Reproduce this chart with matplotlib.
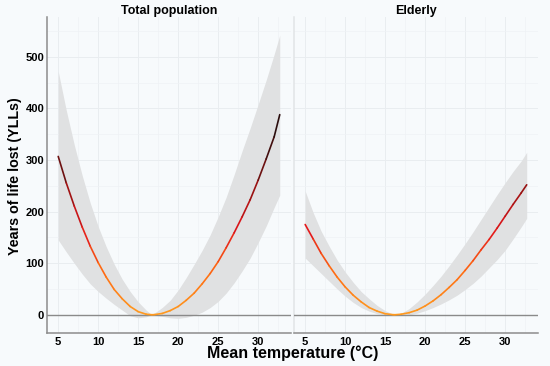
import numpy as np
import matplotlib
matplotlib.use("Agg")
import matplotlib.pyplot as plt
from matplotlib.collections import LineCollection
from matplotlib.colors import LinearSegmentedColormap, Normalize

plt.rcParams['font.family'] = ['Liberation Sans', 'DejaVu Sans']

# Total population: temperature, YLL estimate and CI bounds
temp_tot = [5, 6, 7, 8, 9, 10, 11, 12, 13, 14, 15, 16, 16.7,
            17, 18, 19, 20, 21, 22, 23, 24, 25, 26, 27, 28, 29, 30, 31, 32, 32.7]
yll_tot = [307, 256, 211, 170, 133, 101, 73, 49, 31, 16, 6, 1, 0,
           0.2, 2.5, 8, 16, 28, 42, 60, 80, 103, 130, 159, 190, 223, 261, 302, 345, 388]
lo_tot = [145, 122, 100, 79, 60, 45, 32, 20, 9, -2, -6, -4, 0,
          -1, -3, -6, -7, -5, -1, 5, 14, 26, 42, 62, 85, 110, 140, 172, 208, 232]
hi_tot = [472, 397, 330, 270, 217, 171, 132, 98, 69, 45, 25, 9, 0,
          3, 14, 28, 48, 72, 98, 125, 155, 190, 228, 272, 318, 362, 408, 455, 505, 542]

# Elderly
temp_eld = [5, 6, 7, 8, 9, 10, 11, 12, 13, 14, 15, 16, 16.2,
            17, 18, 19, 20, 21, 22, 23, 24, 25, 26, 27, 28, 29, 30, 31, 32, 32.7]
yll_eld = [175, 147, 119, 95, 73, 54, 38, 25, 14, 7, 2, 0.1, 0,
           1, 4, 9, 17, 27, 39, 53, 68, 86, 105, 126, 146, 168, 191, 214, 236, 252]
lo_eld = [110, 95, 80, 65, 50, 36, 24, 14, 7, 2, 0, -1, 0,
          -1, 0, 3, 8, 14, 21, 29, 38, 49, 61, 75, 91, 107, 125, 147, 170, 187]
hi_eld = [240, 198, 162, 133, 106, 83, 63, 45, 31, 18, 8, 1, 0,
          3, 12, 25, 40, 57, 75, 95, 116, 138, 161, 185, 209, 233, 256, 278, 298, 315]

panels = ["Total population", "Elderly"]
xticks = [5, 10, 15, 20, 25, 30]
yticks = [0, 100, 200, 300, 400, 500]

bg = '#f7fafc'
cmap = LinearSegmentedColormap.from_list(
    'yll', [(0, '#ff9a1f'), (0.22, '#ff6a12'), (0.42, '#e3161b'),
            (0.62, '#9a1212'), (0.8, '#4a1010'), (1, '#1c0c0c')])
norm = Normalize(0, 390)

fig = plt.figure(figsize=(5.5, 3.66), dpi=100, facecolor=bg)
positions = [[0.0855, 0.0893, 0.4435, 0.8651], [0.5345, 0.0893, 0.4435, 0.8651]]
data = [(temp_tot, yll_tot, lo_tot, hi_tot), (temp_eld, yll_eld, lo_eld, hi_eld)]

for i, (title, pos, (t, y, lo, hi)) in enumerate(zip(panels, positions, data)):
    ax = fig.add_axes(pos, facecolor=bg)
    ax.set_xlim(3.6, 34.1)
    ax.set_ylim(-36, 578)
    ax.set_xticks(xticks)
    ax.set_yticks(yticks)
    ax.set_xticks(np.arange(7.5, 34, 5), minor=True)
    ax.set_yticks(np.arange(50, 578, 100), minor=True)
    ax.grid(True, which='major', color='#e9edf0', lw=0.7)
    ax.grid(True, which='minor', color='#eff2f5', lw=0.5)
    ax.set_axisbelow(True)
    ax.tick_params(which='both', length=0)
    ax.tick_params(axis='x', pad=2.5)
    ax.tick_params(axis='y', pad=2)
    for lab in ax.get_xticklabels() + ax.get_yticklabels():
        lab.set_fontweight('bold')
        lab.set_fontsize(8)
    if i == 1:
        ax.set_yticklabels([])
    for s in ['top', 'right']:
        ax.spines[s].set_visible(False)
    ax.spines['bottom'].set_color('#8c8c8c')
    ax.spines['bottom'].set_linewidth(1.1)
    ax.spines['left'].set_color('#8c8c8c' if i == 0 else '#e2e4e6')
    ax.spines['left'].set_linewidth(1.1)

    ax.fill_between(t, lo, hi, color='#e0e1e2', lw=0, zorder=2)
    ax.axhline(0, color='#8a8a8a', lw=1.0, zorder=3)

    pts = np.column_stack([t, y])
    segs = np.stack([pts[:-1], pts[1:]], axis=1)
    mids = (np.array(y[:-1]) + np.array(y[1:])) / 2
    lc = LineCollection(segs, cmap=cmap, norm=norm, lw=1.2, zorder=4, capstyle='round')
    lc.set_array(mids)
    ax.add_collection(lc)

    ax.set_title(title, fontsize=9, fontweight='bold', pad=2)

fig.text(15 / 550, 0.52, "Years of life lost (YLLs)", rotation=90,
         ha='center', va='center', fontsize=10.3, fontweight='bold')
fig.text(0.533, 0.034, "Mean temperature (\u00b0C)", ha='center', va='center',
         fontsize=11.5, fontweight='bold')

fig.savefig("out.png", dpi=100, facecolor=bg)
